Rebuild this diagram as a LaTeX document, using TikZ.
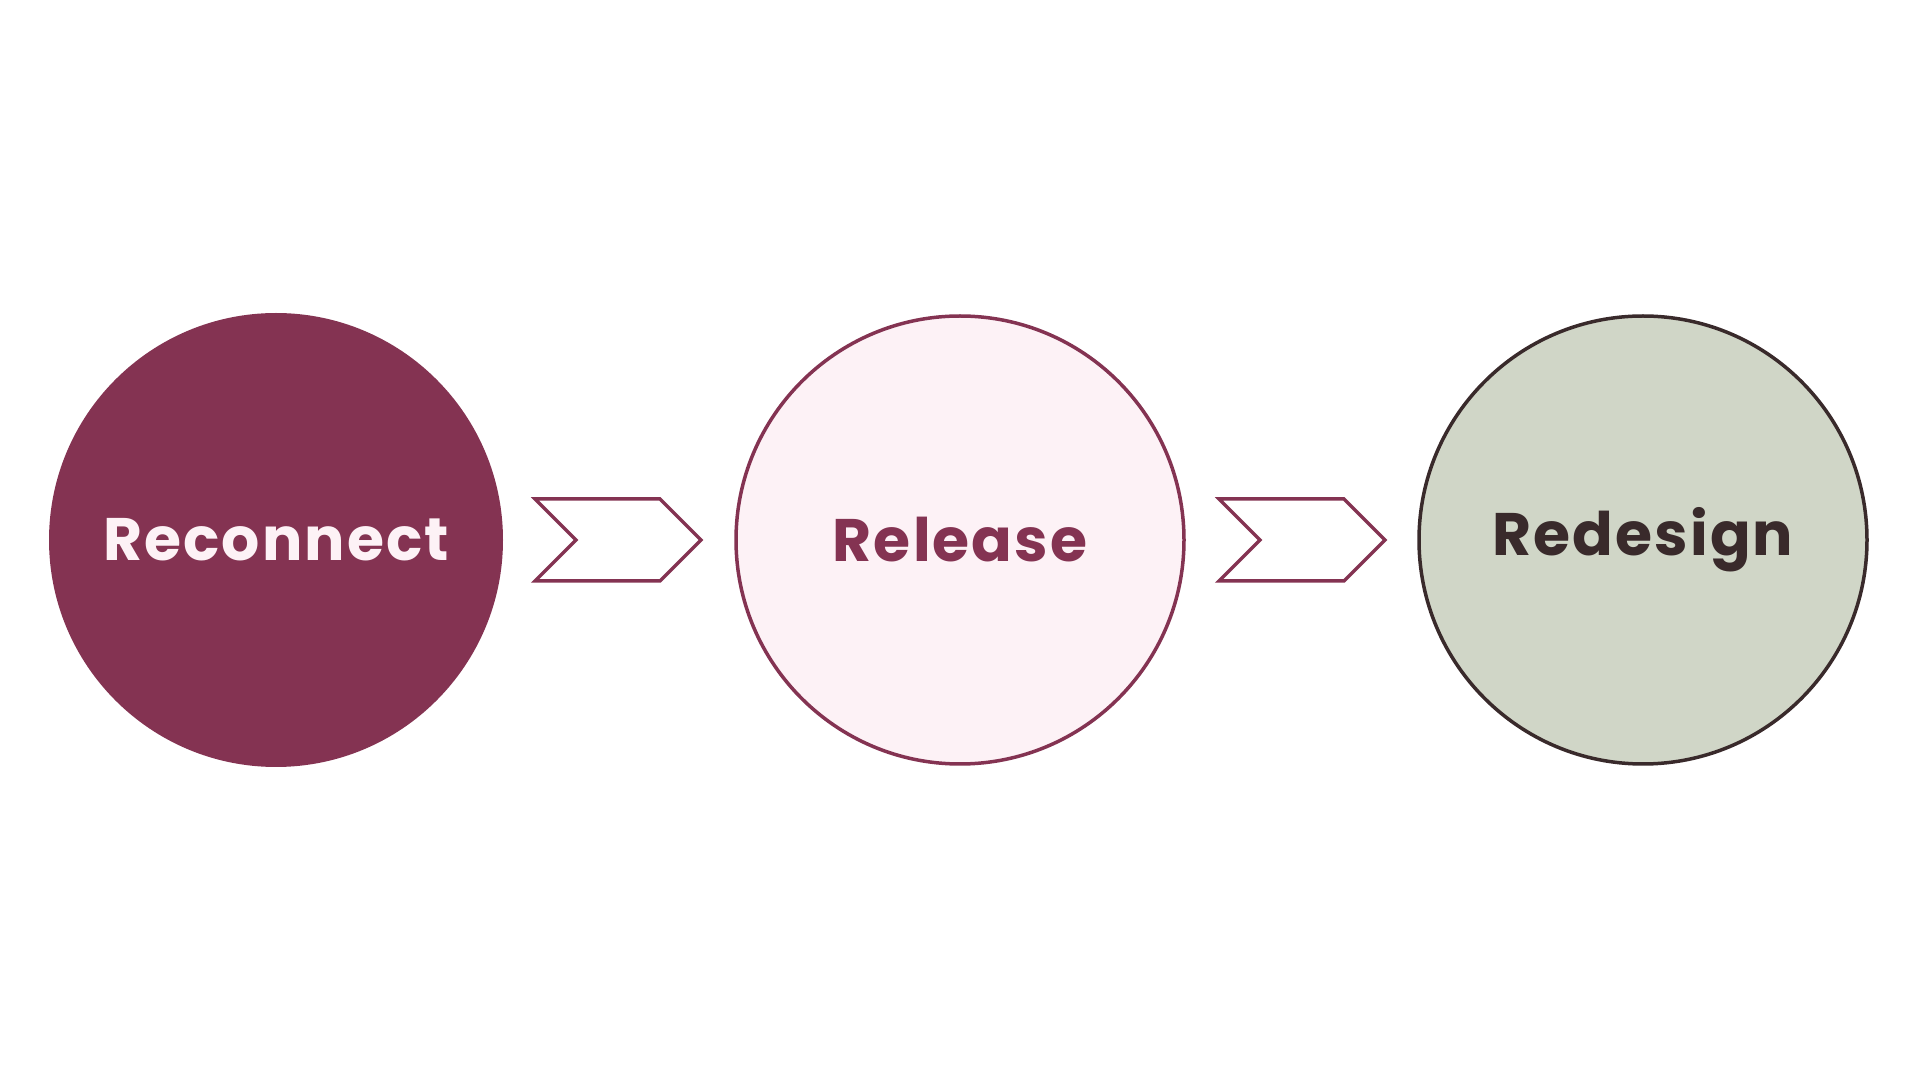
\documentclass[tikz,border=0pt]{standalone}
\usepackage{fontspec}
\setmainfont{Poppins}[LetterSpace=3.5]
\usetikzlibrary{shapes.symbols}

\definecolor{plum}{HTML}{843352}
\definecolor{blush}{HTML}{FDF2F6}
\definecolor{sage}{HTML}{D0D6C7}
\definecolor{cocoa}{HTML}{392A2B}

\begin{document}
\begin{tikzpicture}[x=1pt,y=1pt,
	stage/.style={circle,inner sep=0pt,minimum size=448pt,line width=3.5pt,
		font=\fontsize{60}{72}\selectfont\bfseries},
	chevron/.style={signal,signal to=east,signal from=west,signal pointer angle=90,
		draw=plum,line width=3.5pt,fill=white,inner sep=0pt,
		minimum width=166pt,minimum height=82pt}]
	\useasboundingbox (0,0) rectangle (1920,1080);
	\node[stage,minimum size=454pt,fill=plum,text=blush] (reconnect) at (276,540) {Reconnect};
	\node[stage,fill=blush,draw=plum,text=plum] (release) at (960,540) {Release};
	\node[stage,fill=sage,draw=cocoa,text=cocoa] (redesign) at (1643,540) {Redesign};
	\node[chevron] (arrow1) at (618,540) {};
	\node[chevron] (arrow2) at (1302,540) {};
\end{tikzpicture}
\end{document}
